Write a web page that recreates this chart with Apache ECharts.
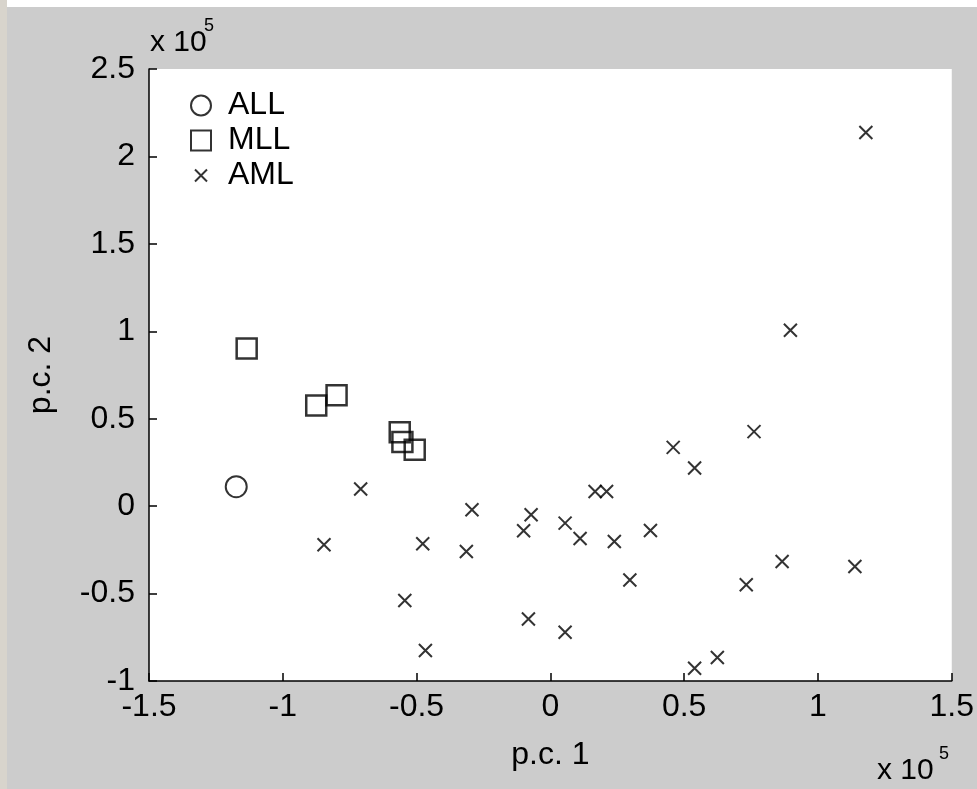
<!DOCTYPE html>
<html>
<head>
<meta charset="utf-8">
<script src="https://cdn.jsdelivr.net/npm/echarts@6/dist/echarts.min.js"></script>
<style>
  html, body { margin: 0; padding: 0; background: #cccccc; }
  #main { width: 977px; height: 789px; }
</style>
</head>
<body>
<div id="main"></div>
<script>
// values are in units of 1e5 (as shown by the "x 10^5" axis multipliers)
var xTicks = [-1.5, -1, -0.5, 0, 0.5, 1, 1.5];
var yTicks = [-1, -0.5, 0, 0.5, 1, 1.5, 2, 2.5];

var allPts = [
  [-1.174, 0.111]
];

var mllPts = [
  [-1.135, 0.901],
  [-0.875, 0.575],
  [-0.799, 0.634],
  [-0.563, 0.422],
  [-0.553, 0.367],
  [-0.507, 0.322]
];

var amlPts = [
  [-0.709, 0.098], [-0.846, -0.221], [-0.293, -0.021], [-0.072, -0.049],
  [-0.100, -0.141], [0.055, -0.097], [0.111, -0.185], [0.239, -0.202],
  [0.374, -0.139], [-0.477, -0.215], [-0.314, -0.259], [0.297, -0.422],
  [-0.544, -0.540], [-0.082, -0.645], [0.055, -0.721], [-0.467, -0.826],
  [0.539, -0.927], [0.624, -0.866], [0.459, 0.336], [0.539, 0.218],
  [0.167, 0.084], [0.210, 0.084], [1.179, 2.137], [0.897, 1.006],
  [0.761, 0.426], [0.866, -0.317], [1.138, -0.345], [0.732, -0.450]
];

var font = 'Liberation Sans, Arial, sans-serif';
var crossPath = 'path://M0,0L10,10M10,0L0,10';

var myChart = echarts.init(document.getElementById('main'));

var option = {
  backgroundColor: '#cccccc',
  animation: false,
  grid: {
    left: 149,
    right: 23,
    top: 69,
    bottom: 108,
    show: true,
    backgroundColor: '#ffffff',
    borderWidth: 0
  },
  legend: {
    orient: 'vertical',
    left: 190,
    top: 88,
    padding: 0,
    itemGap: 0,
    itemWidth: 20,
    itemHeight: 20,
    selectedMode: false,
    textStyle: {
      color: '#000',
      fontFamily: font,
      fontSize: 32,
      lineHeight: 35,
      padding: [0, 0, 0, 12]
    },
    data: [
      { name: 'ALL', icon: 'circle' },
      { name: 'MLL', icon: 'rect' },
      { name: 'AML', icon: 'path://M0,0M20,20M4,4L16,16M16,4L4,16' }
    ]
  },
  xAxis: {
    type: 'value',
    min: xTicks[0],
    max: xTicks[xTicks.length - 1],
    interval: 0.5,
    name: 'p.c. 1',
    nameLocation: 'middle',
    nameGap: 58,
    nameTextStyle: { color: '#000', fontFamily: font, fontSize: 32 },
    axisLine: { show: true, onZero: false, lineStyle: { color: '#000', width: 1.5 } },
    axisTick: { show: true, inside: true, length: 8, lineStyle: { color: '#000', width: 1.5 } },
    axisLabel: { color: '#000', fontFamily: font, fontSize: 32, margin: 10 },
    splitLine: { show: false }
  },
  yAxis: {
    type: 'value',
    min: yTicks[0],
    max: yTicks[yTicks.length - 1],
    interval: 0.5,
    name: 'p.c. 2',
    nameLocation: 'middle',
    nameRotate: 90,
    nameGap: 92,
    nameTextStyle: { color: '#000', fontFamily: font, fontSize: 32 },
    axisLine: { show: true, onZero: false, lineStyle: { color: '#000', width: 1.5 } },
    axisTick: { show: true, inside: true, length: 8, lineStyle: { color: '#000', width: 1.5 } },
    axisLabel: { color: '#000', fontFamily: font, fontSize: 32, margin: 14 },
    splitLine: { show: false }
  },
  graphic: [
    { type: 'rect', left: 0, top: 0, shape: { width: 977, height: 7 }, style: { fill: '#ffffff' } },
    { type: 'rect', left: 0, top: 0, shape: { width: 7, height: 789 }, style: { fill: '#d8d4cc' } },
    { type: 'text', left: 150, top: 28, style: { text: 'x 10', fill: '#000', font: '30px ' + font } },
    { type: 'text', left: 204, top: 17, style: { text: '5', fill: '#000', font: '18px ' + font } },
    { type: 'text', left: 877, top: 756, style: { text: 'x 10', fill: '#000', font: '30px ' + font } },
    { type: 'text', left: 939, top: 745, style: { text: '5', fill: '#000', font: '18px ' + font } }
  ],
  series: [
    {
      name: 'ALL',
      type: 'scatter',
      symbol: 'circle',
      symbolSize: 21,
      itemStyle: { color: 'rgba(0,0,0,0)', borderColor: '#000', borderWidth: 2 },
      emphasis: { disabled: true },
      data: allPts
    },
    {
      name: 'MLL',
      type: 'scatter',
      symbol: 'rect',
      symbolSize: 20,
      itemStyle: { color: 'rgba(0,0,0,0)', borderColor: '#000', borderWidth: 2.5 },
      emphasis: { disabled: true },
      data: mllPts
    },
    {
      name: 'AML',
      type: 'scatter',
      symbol: crossPath,
      symbolSize: 13,
      itemStyle: { color: 'rgba(0,0,0,0)', borderColor: '#000', borderWidth: 2 },
      emphasis: { disabled: true },
      data: amlPts
    }
  ]
};

myChart.setOption(option);
</script>
</body>
</html>
